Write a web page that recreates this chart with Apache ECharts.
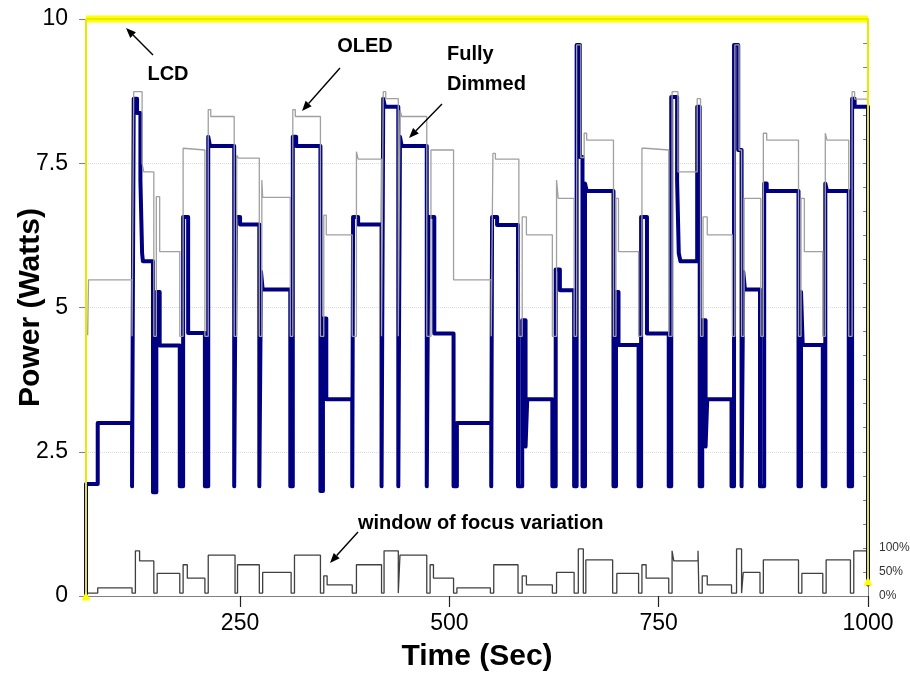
<!DOCTYPE html>
<html>
<head>
<meta charset="utf-8">
<script src="https://cdn.jsdelivr.net/npm/echarts@6/dist/echarts.min.js"></script>
<style>
  html, body { margin: 0; padding: 0; background: #fff; }
  #chart { width: 910px; height: 677px; }
</style>
</head>
<body>
<div id="chart"></div>
<script>
// ---------- data (time in s, values) ----------
const xTicks = [250, 500, 750, 1000];
const yTicks = [0, 2.5, 5, 7.5, 10];
const pctTicks = [0, 50, 100];

// LCD (constant backlight) [time, watts]
const lcdEdges = [[66, 0], [66, 10], [1000, 10], [1000, 0.26]];
const lcdTop = [[66, 10], [1000, 10]];

// Fully Dimmed (step changes: [time, watts])
const dimmedSteps = [
  [66,0],[66,1.94],[80,3.0],[121,1.9],[123,8.62],[127,8.37],[131,7.2],[133,5.94],[134,5.8],
  [146,1.8],[150,5.27],[154,4.34],[178,1.9],[182,6.57],[188,4.56],[208,1.9],[212,7.96],[214,7.8],
  [243,1.9],[245,6.57],[250,6.44],[273,1.9],[275,5.62],[277,5.31],[310,1.9],[313,7.96],[317,7.8],
  [346,1.82],[349,4.81],[353,3.41],[384,1.9],[385,6.57],[391,6.44],[419,1.9],[421,8.62],[423,8.48],
  [439,1.9],[441,7.96],[443,7.8],[473,1.9],[475,6.57],[482,4.55],[505,1.9],[509,3.0],
  [550,1.9],[551,6.57],[557,6.43],[582,1.9],[587,4.78],[591,2.59],[593,3.41],[623,1.9],[627,5.66],[632,5.3],
  [649,1.9],[652,9.55],[656,7.61],[659,1.9],[662,7.15],[664,7.02],[696,1.9],[699,5.27],[702,4.35],
  [726,1.9],[729,6.57],[736,4.55],[762,1.9],[765,8.65],[772,7.2],[774,5.94],[776,5.8],[796,8.48],
  [799,1.9],[802,4.78],[806,2.59],[808,3.41],[837,1.9],[840,9.55],[845,7.73],[849,1.9],[851,5.62],[853,5.31],
  [871,1.9],[876,7.15],[879,7.02],[917,1.9],[920,5.27],[922,4.35],[946,1.9],[949,7.15],[951,7.02],
  [977,1.9],[981,8.62],[984,8.48],[1000,0.2]
];

// OLED (step changes: [time, watts])
const oledSteps = [
  [68,4.52],[69,5.48],[121,4.5],[123,8.74],[133,7.5],[135,7.35],[147,4.5],[150,6.92],[154,5.97],
  [178,4.5],[182,7.76],[184,7.73],[208,4.5],[212,8.43],[215,8.31],[243,4.5],[246,7.64],[248,7.59],
  [273,4.5],[276,7.21],[277,6.91],[310,4.5],[313,8.43],[316,8.31],[346,4.5],[350,6.6],[353,6.26],
  [384,4.5],[389,7.7],[391,7.57],[419,4.5],[421,8.74],[424,8.62],[439,4.5],[441,8.42],[443,8.31],
  [473,4.5],[478,7.73],[505,5.48],[550,4.5],[552,7.67],[555,7.57],[583,4.5],[587,6.57],[592,6.26],
  [623,4.5],[628,7.21],[630,6.89],[649,4.5],[652,9.55],[657,7.6],[661,8.02],[664,7.9],
  [696,4.5],[699,6.89],[702,5.97],[726,4.5],[730,7.76],[734,7.73],[762,4.5],[766,8.74],[773,7.35],
  [796,8.62],[800,4.5],[803,6.57],[808,6.26],[838,4.5],[841,9.55],[846,7.73],[849,4.5],[852,6.89],
  [872,4.5],[875,8.02],[879,7.9],[917,4.5],[920,6.89],[924,5.97],[946,4.5],[949,8.02],[951,7.9],
  [977,4.5],[981,8.74],[984,8.61],[1000,8.61]
];

// window of focus variation (step changes: [time, percent])
const windowSteps = [
  [66,6],[80,17],[121,6],[125,94],[130,73],[147,6],[151,47],[178,6],[182,65],[187,37],
  [208,6],[212,85],[244,6],[247,65],[273,6],[277,49],[311,6],[315,85],[346,6],[350,42],[354,23],
  [384,6],[389,65],[419,6],[422,94],[439,6],[441,85],[473,6],[477,65],[481,37],[505,6],[509,17],
  [549,6],[553,65],[582,6],[587,42],[592,23],[623,6],[628,49],[649,6],[654,98],[660,6],[663,75],
  [695,6],[700,47],[726,6],[730,65],[735,37],[762,6],[766,94],[768,73],[797,94],[798,6],
  [802,42],[808,23],[837,6],[843,98],[849,6],[851,49],[871,6],[875,75],[917,6],[921,47],
  [946,6],[950,75],[979,6],[983,94],[1000,94]
];

// ---------- chart ----------
const FONT = '"Liberation Sans", Arial, sans-serif';
const chart = echarts.init(document.getElementById('chart'), null, { renderer: 'canvas' });

function arrow(x1, y1, x2, y2) {
  const a = Math.atan2(y2 - y1, x2 - x1), L = 10, W = 4;
  const bx = x2 - L * Math.cos(a), by = y2 - L * Math.sin(a);
  const px = -Math.sin(a) * W, py = Math.cos(a) * W;
  return [
    { type: 'line', shape: { x1: x1, y1: y1, x2: bx, y2: by }, style: { stroke: '#000', lineWidth: 1.4 }, z: 100 },
    { type: 'polygon', shape: { points: [[x2, y2], [bx + px, by + py], [bx - px, by - py]] }, style: { fill: '#000' }, z: 100 }
  ];
}
function label(text, x, y, align) {
  return { type: 'text', x: x, y: y, z: 100,
    style: { text: text, font: 'bold 20px ' + FONT, fill: '#000', textAlign: align || 'center', textVerticalAlign: 'middle' } };
}

const option = {
  animation: false,
  backgroundColor: '#fff',
  grid: { left: 86, right: 42, top: 19, bottom: 81, containLabel: false, outerBoundsMode: 'none' },
  xAxis: {
    type: 'value', min: 66, max: 1000,
    name: 'Time (Sec)', nameLocation: 'middle', nameGap: 46, nameMoveOverlap: false,
    nameTextStyle: { fontSize: 30, fontWeight: 'bold', color: '#000', fontFamily: FONT },
    axisLine: { show: true, lineStyle: { color: '#808080', width: 1 } },
    axisTick: { show: true, length: 11, lineStyle: { color: '#222', width: 1.2 }, customValues: xTicks },
    axisLabel: { customValues: xTicks, fontSize: 23, color: '#000', margin: 16, fontFamily: FONT,
      formatter: function (v) { return String(v); } },
    splitLine: { show: false }
  },
  yAxis: [
    {
      type: 'value', min: 0, max: 10, interval: 2.5,
      name: 'Power (Watts)', nameLocation: 'middle', nameGap: 40, nameMoveOverlap: false,
      nameTextStyle: { fontSize: 30, fontWeight: 'bold', color: '#000', fontFamily: FONT },
      axisLine: { show: true, lineStyle: { color: '#808080' } },
      axisTick: { show: true, length: 7, lineStyle: { color: '#808080' } },
      axisLabel: { fontSize: 23, color: '#000', margin: 18, fontFamily: FONT,
        formatter: function (v) { return yTicks.indexOf(v) >= 0 ? String(v) : ''; } },
      splitLine: { show: true, lineStyle: { color: '#dddddd', type: 'dotted', width: 1 } }
    },
    {
      type: 'value', min: 0, max: 1200, interval: 50, position: 'right',
      axisLine: { show: true, lineStyle: { color: '#808080' } },
      axisTick: { show: true, inside: true, length: 5, lineStyle: { color: '#808080' } },
      axisLabel: { fontSize: 12, color: '#333', margin: 11, fontFamily: FONT,
        formatter: function (v) { return pctTicks.indexOf(v) >= 0 ? v + '%' : ''; } },
      splitLine: { show: false }
    }
  ],
  series: [
    {
      name: 'window of focus variation', type: 'line', yAxisIndex: 1, step: 'end',
      data: windowSteps, symbol: 'none', clip: false, z: 2,
      lineStyle: { color: '#404040', width: 1.3 }
    },
    {
      name: 'Fully Dimmed', type: 'line', step: 'end', data: dimmedSteps,
      symbol: 'none', clip: false, z: 3,
      lineStyle: { color: '#000080', width: 4, join: 'round', cap: 'round' }
    },
    {
      name: 'OLED', type: 'line', step: 'end', data: oledSteps,
      symbol: 'none', clip: false, z: 4,
      lineStyle: { color: '#a0a0a0', width: 1.3 }
    },
    {
      name: 'LCD', type: 'line', data: lcdTop, symbol: 'none', clip: false, z: 5,
      lineStyle: { color: '#ffff00', width: 7, cap: 'butt' }
    },
    {
      name: 'LCD edges', type: 'line', data: lcdEdges, clip: false, z: 6,
      symbol: 'triangle',
      symbolSize: function (val, p) { return (p.dataIndex === 0 || p.dataIndex === lcdEdges.length - 1) ? 9 : 0; },
      itemStyle: { color: '#ffff00' },
      lineStyle: { color: '#e8e800', width: 2 }
    }
  ],
  graphic: [].concat(
    [label('LCD', 168, 74)], arrow(153, 55, 126, 28),
    [label('OLED', 365, 46)], arrow(340, 68, 302, 111),
    [label('Fully', 447, 54, 'left'), label('Dimmed', 447, 84, 'left')], arrow(442, 104, 409, 138),
    [label('window of focus variation', 358, 523, 'left')], arrow(358, 532, 330, 563)
  )
};
chart.setOption(option);
</script>
</body>
</html>
